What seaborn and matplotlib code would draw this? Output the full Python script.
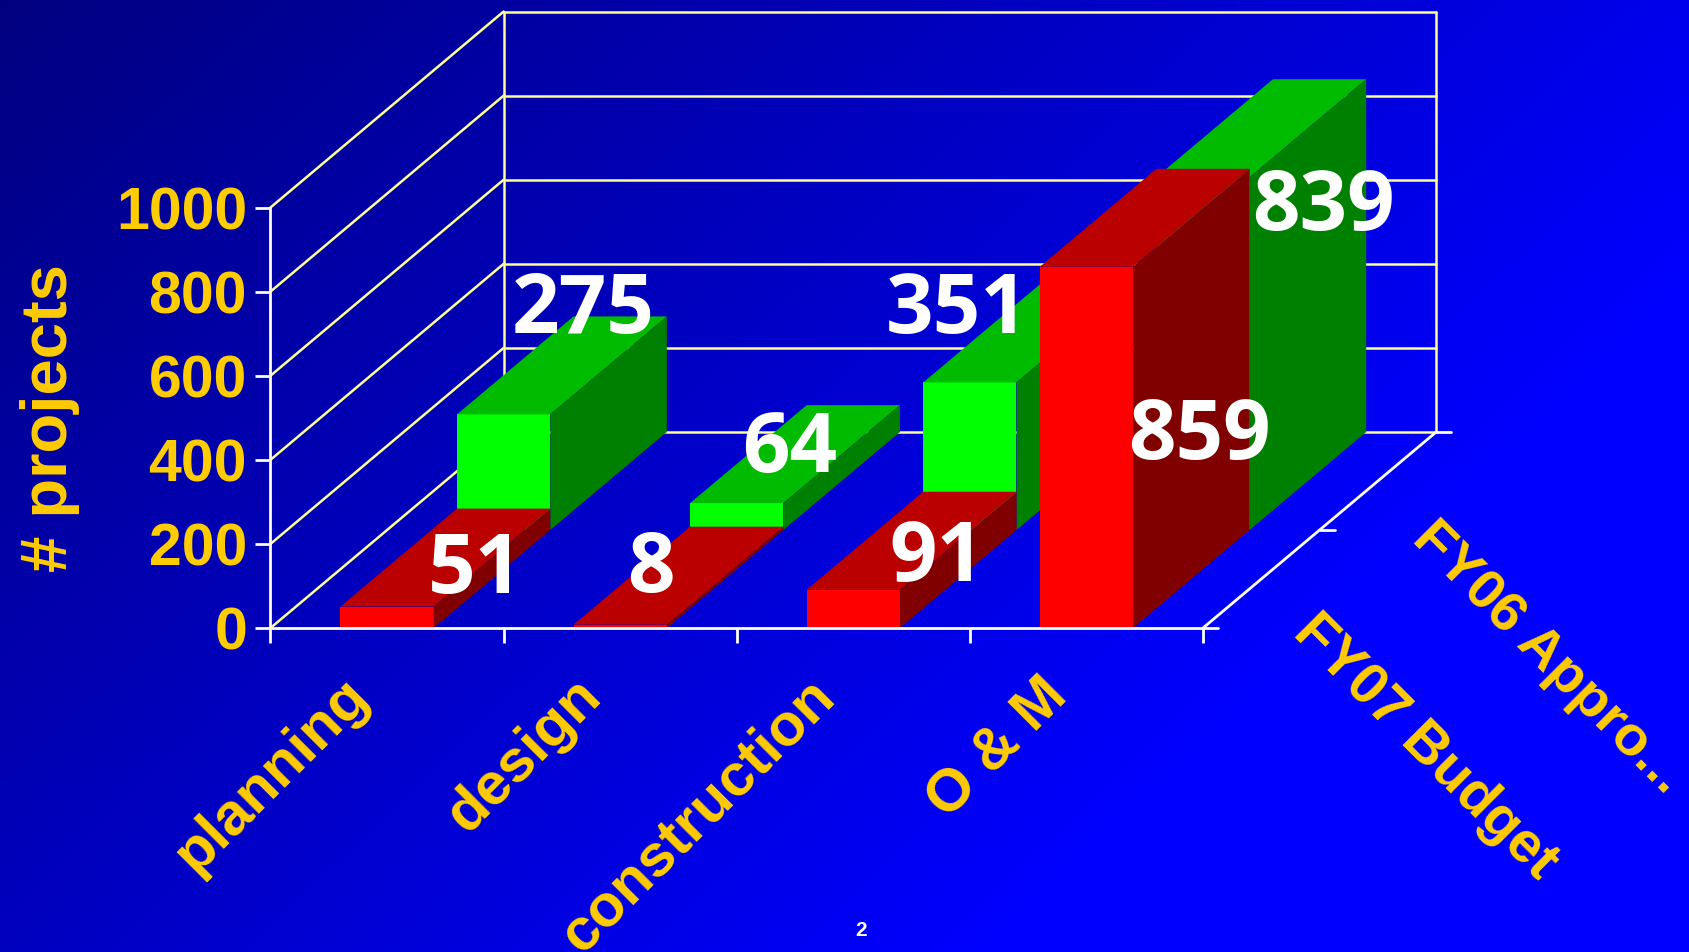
import numpy as np
import pandas as pd
import matplotlib
matplotlib.use("Agg")
import matplotlib.pyplot as plt
from matplotlib.patches import Polygon
from matplotlib.transforms import ScaledTranslation
import seaborn as sns

# values
categories = ["planning", "design", "construction", "O & M"]
fy07_budget = [51, 8, 91, 859]
fy06_approp = [275, 64, 351, 839]
value_ticks = [0, 200, 400, 600, 800, 1000]
row_labels = ["FY07 Budget", "FY06 Appro..."]

W, H = 1690, 952
# pixel geometry of the fake 3d box
X0, X1, Y0, Y1 = 270.5, 1203.0, 628.0, 207.5
BAR_W = 0.4
DEPTH_X = 1.0      # one full depth is one category wide
DEPTH_Y = 466.0    # and this many value units high

# hand placed labels: pixel offsets from the top of each bar
offs_07 = [(88, 35), (31, 54), (84, 30), (113, -171)]
offs_06 = [(80, 103), (53, 53), (-13, 71), (120, -31)]

YELLOW = "#FFCC00"
GRID = "#FFFF99"

sns.set_style("white")
plt.rcParams["font.family"] = ["Liberation Sans", "DejaVu Sans"]
plt.rcParams["font.weight"] = "bold"

fig = plt.figure(figsize=(W / 100, H / 100), dpi=100)

# background gradient
bg = fig.add_axes([0, 0, 1, 1], zorder=-1)
xx, yy = np.meshgrid(np.linspace(0, 1, 320), np.linspace(0, 1, 180))
t = np.clip(0.85 * xx + 0.5 * yy, 0, 1)
grad = np.dstack([np.zeros_like(t), np.zeros_like(t), 0.5 + 0.5 * t])
bg.imshow(grad, aspect="auto", extent=[0, 1, 1, 0], interpolation="bilinear")
bg.axis("off")

ax = fig.add_axes([X0 / W, 1 - Y0 / H, (X1 - X0) / W, (Y0 - Y1) / H])
ax.patch.set_alpha(0)

df = pd.DataFrame({"pos": np.arange(len(categories)) + 0.5,
                   "fy07": fy07_budget, "fy06": fy06_approp})


def draw_row(col, depth, front, top, side, z):
    # front faces through seaborn, top and side faces projected from the same values
    lift = depth * DEPTH_Y
    sns.barplot(x=df["pos"] + depth * DEPTH_X, y=df[col], native_scale=True, width=BAR_W,
                color=front, saturation=1, errorbar=None, bottom=lift, linewidth=0,
                clip_on=False, zorder=z, ax=ax)
    step_x, step_y = 0.5 * DEPTH_X, 0.5 * DEPTH_Y
    for p, v in zip(df["pos"], df[col]):
        l = p + depth * DEPTH_X - BAR_W / 2
        r = l + BAR_W
        b = lift
        tp = lift + v
        ax.add_patch(Polygon([(l, tp), (r, tp), (r + step_x, tp + step_y), (l + step_x, tp + step_y)],
                             fc=top, lw=0, clip_on=False, zorder=z))
        ax.add_patch(Polygon([(r, b), (r, tp), (r + step_x, tp + step_y), (r + step_x, b + step_y)],
                             fc=side, lw=0, clip_on=False, zorder=z))


# walls
for v in value_ticks:
    ax.plot([0, DEPTH_X], [v, v + DEPTH_Y], color=GRID, lw=1.8, clip_on=False, zorder=0.5)
    ax.plot([DEPTH_X, 4 + DEPTH_X], [v + DEPTH_Y] * 2, color=GRID, lw=1.8, clip_on=False, zorder=0.5)
for x in [DEPTH_X, 4 + DEPTH_X]:
    ax.plot([x, x], [DEPTH_Y, 1000 + DEPTH_Y], color=GRID, lw=1.8, clip_on=False, zorder=0.5)

draw_row("fy06", 0.5, "#00FF00", "#00BB00", "#008000", 1)
draw_row("fy07", 0.0, "#FF0000", "#BB0000", "#800000", 2)

# floor edge on the right with its little ticks
ax.plot([4, 4 + DEPTH_X], [0, DEPTH_Y], color="white", lw=2, clip_on=False, zorder=3)
tick_x = 15 / ((X1 - X0) / 4)
for d in [0, 0.5, 1]:
    ax.plot([4 + d, 4 + d + tick_x], [d * DEPTH_Y] * 2, color="white", lw=2, clip_on=False, zorder=3)

ax.set_xlim(0, 4)
ax.set_ylim(0, 1000)
ax.set_xlabel("")
ax.set_ylabel("# projects", color=YELLOW, fontsize=47, fontweight="bold", labelpad=26)
ax.set_yticks(value_ticks)
ax.set_xticks(df["pos"])
ax.set_xticks(np.arange(5), minor=True)
ax.set_xticklabels(categories, rotation=45, ha="right", va="top", rotation_mode="anchor",
                   color=YELLOW, fontsize=43, fontweight="bold")
ax.tick_params(axis="x", which="major", length=0, pad=29)
ax.tick_params(axis="x", which="minor", length=11, width=2, color="white", bottom=True)
ax.tick_params(axis="y", length=11, width=2, color="white", left=True, labelcolor=YELLOW,
               labelsize=42.5, pad=6)
# the category labels sit left of their slots
shift = ScaledTranslation(-47 / 100, 0, fig.dpi_scale_trans)
for lab in ax.get_xticklabels():
    lab.set_transform(lab.get_transform() + shift)
sns.despine(ax=ax, top=True, right=True)
for s in ["left", "bottom"]:
    ax.spines[s].set_color("white")
    ax.spines[s].set_linewidth(2)
    ax.spines[s].set_zorder(3)

# data labels
for i, p in enumerate(df["pos"]):
    ax.annotate(str(fy07_budget[i]), (p, fy07_budget[i]), xytext=offs_07[i], textcoords="offset pixels",
                ha="center", va="center", color="white", fontsize=60, fontweight="bold",
                family="Open Sans", annotation_clip=False, zorder=5)
    ax.annotate(str(fy06_approp[i]), (p + 0.5, 0.5 * DEPTH_Y + fy06_approp[i]), xytext=offs_06[i],
                textcoords="offset pixels", ha="center", va="center", color="white", fontsize=60,
                fontweight="bold", family="Open Sans", annotation_clip=False, zorder=5)

# depth axis labels
fig.text(1425 / W, 1 - 747 / H, row_labels[0], rotation=-45, rotation_mode="anchor", ha="center",
         va="center", color=YELLOW, fontsize=41, fontweight="bold")
fig.text(1548 / W, 1 - 658 / H, row_labels[1], rotation=-45, rotation_mode="anchor", ha="center",
         va="center", color=YELLOW, fontsize=40.5, fontweight="bold")
fig.text(861 / W, 1 - 931 / H, "2", ha="center", va="center", color="white", fontsize=15, fontweight="bold")

fig.savefig("out.png", dpi=100)
